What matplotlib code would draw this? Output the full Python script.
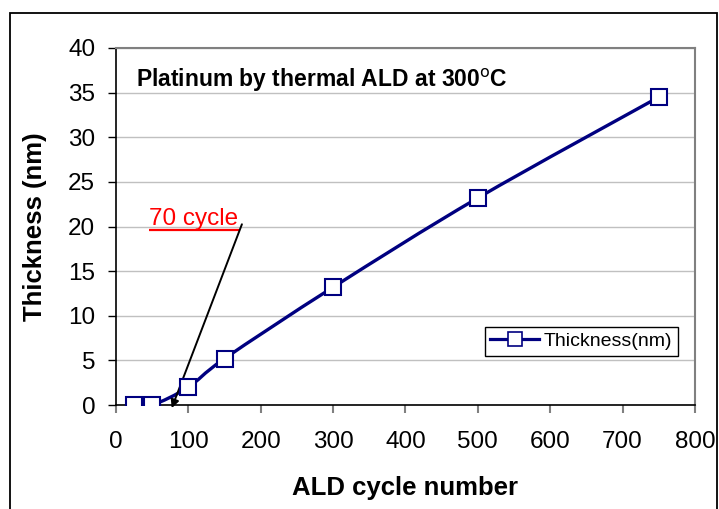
import matplotlib.pyplot as plt
from matplotlib.path import Path
from matplotlib.patches import PathPatch, Rectangle

# data
cycles = [25, 50, 100, 150, 300, 500, 750]
thickness = [0.0, 0.0, 2.0, 5.2, 13.2, 23.2, 34.5]

x_ticks = [0, 100, 200, 300, 400, 500, 600, 700, 800]
y_ticks = [0, 5, 10, 15, 20, 25, 30, 35, 40]

NAVY = '#000080'

plt.rcParams['font.family'] = ['Liberation Sans', 'DejaVu Sans']


def smooth_path(xs, ys):
    # Excel-like smoothed line: cubic bezier segments through the points
    pts = list(zip(xs, ys))
    n = len(pts)
    verts = [pts[0]]
    codes = [Path.MOVETO]
    for i in range(n - 1):
        p0 = pts[max(i - 1, 0)]
        p1 = pts[i]
        p2 = pts[i + 1]
        p3 = pts[min(i + 2, n - 1)]
        c1 = (p1[0] + (p2[0] - p0[0]) / 6, p1[1] + (p2[1] - p0[1]) / 6)
        c2 = (p2[0] - (p3[0] - p1[0]) / 6, p2[1] - (p3[1] - p1[1]) / 6)
        verts += [c1, c2, p2]
        codes += [Path.CURVE4] * 3
    return Path(verts, codes)


fig = plt.figure(figsize=(7.19, 5.09), dpi=100)
ax = fig.add_axes([0.1613, 0.2043, 0.8053, 0.7014])

ax.yaxis.grid(True, color='#c0c0c0', linewidth=1.0)
ax.set_axisbelow(True)

ax.add_patch(PathPatch(smooth_path(cycles, thickness), facecolor='none',
                       edgecolor=NAVY, linewidth=2.4, zorder=3))
ax.plot(cycles, thickness, linestyle='none', marker='s', markersize=11,
        markerfacecolor='white', markeredgecolor=NAVY, markeredgewidth=1.5,
        zorder=4)

# legend handle: line + marker
ax.plot([], [], color=NAVY, linewidth=2.3, marker='s', markersize=9.5,
        markerfacecolor='white', markeredgecolor=NAVY, markeredgewidth=1.2,
        label='Thickness(nm)')
leg = ax.legend(loc='lower right', bbox_to_anchor=(0.971, 0.137), fontsize=14,
                fancybox=False, framealpha=1, edgecolor='black',
                handlelength=2.5, handletextpad=0.25, borderpad=0.3,
                borderaxespad=0)
leg.get_frame().set_linewidth(1.0)

ax.set_xlim(0, 800)
ax.set_ylim(0, 40)
ax.set_xticks(x_ticks)
ax.set_yticks(y_ticks)
ax.tick_params(axis='both', labelsize=17.5, length=6, width=1.0)
ax.tick_params(axis='x', pad=13, color='#808080', width=1.5)
ax.tick_params(axis='y', pad=9, color='black')

for side in ['top', 'right']:
    ax.spines[side].set_color('#808080')
    ax.spines[side].set_linewidth(1.5)
for side in ['left', 'bottom']:
    ax.spines[side].set_color('black')
    ax.spines[side].set_linewidth(1.2)

ax.set_xlabel('ALD cycle number', fontsize=18.5, fontweight='bold', labelpad=16)
ax.set_ylabel('Thickness (nm)', fontsize=18.5, fontweight='bold', labelpad=15)

ax.text(0.035, 0.91, r'Platinum by thermal ALD at 300$^{\rm o}$C',
        transform=ax.transAxes, fontsize=16.5, fontweight='bold',
        va='center', ha='left')

# "70 cycle" callout
ax.text(46, 20.2, '70 cycle', color='red', fontsize=17.5, ha='left',
        va='baseline')
ax.plot([46, 170], [19.6, 19.6], color='red', linewidth=1.6,
        solid_capstyle='butt', clip_on=False)
ax.annotate('', xy=(77, -0.35), xytext=(174, 20.25),
            arrowprops=dict(arrowstyle='-|>', color='black', linewidth=1.4,
                            mutation_scale=12, shrinkA=0, shrinkB=0),
            annotation_clip=False)

# outer chart border
fig.patches.append(Rectangle((10 / 719, -0.1), 707 / 719, 1.1 - 13 / 509,
                             transform=fig.transFigure, fill=False,
                             edgecolor='black', linewidth=1.3))

fig.savefig('out.png', dpi=100)
